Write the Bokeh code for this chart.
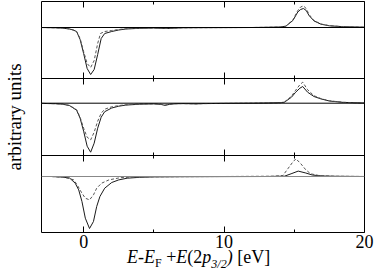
from bokeh.plotting import figure
from bokeh.layouts import column
from bokeh.models import Range1d, LinearAxis, FixedTicker, Span, Div
from bokeh.embed import file_html
from bokeh.resources import INLINE

# ---------------- data (arbitrary units) ----------------
x_ticks = [0, 10, 20]
x_minor = [5, 15]
x_tick_labels = {0: "0", 10: "10", 20: "20"}

# panel 1 (top)
e1_s = [-3, -2, -1.5, -1, -0.75, -0.5, -0.25, 0, 0.25, 0.5, 0.75, 1.0, 1.25, 1.5, 2, 2.5, 3, 4, 5, 5.5, 6, 6.5, 7, 8, 10, 12, 13, 14, 14.4, 14.9, 15.25, 15.45, 15.65, 15.85, 16.05, 16.4, 16.9, 17.5, 18.5, 20]
y1_s = [0, -0.3, -0.6, -1.5, -2.5, -4, -12, -26, -41, -47, -42, -27, -11, -6, -4, -2.5, -1.5, -0.8, -0.5, -0.8, -1.0, -0.6, -0.3, -0.2, -0.1, 0, 0.2, 0.5, 1.3, 7, 15.5, 18, 19, 17, 12, 6.6, 3.3, 1.7, 0.8, 0.3]
e1_d = [-3, -2, -1.5, -1, -0.75, -0.5, -0.25, 0, 0.25, 0.5, 0.75, 1.0, 1.2, 1.5, 2, 2.5, 3, 4, 5, 5.5, 6, 6.5, 7, 8, 10, 12, 13, 14, 14.4, 14.9, 15.25, 15.45, 15.65, 15.85, 16.05, 16.4, 16.9, 17.5, 18.5, 20]
y1_d = [0, -0.3, -0.6, -1.4, -2.4, -4, -11, -24, -36, -40, -33, -16, -6, -4, -3, -2, -1.2, -0.7, -0.5, -0.8, -1.0, -0.6, -0.3, -0.2, -0.1, 0, 0.2, 0.5, 1.3, 7.5, 17, 20.5, 21.6, 19, 13, 7, 3.5, 1.8, 0.8, 0.3]

# panel 2 (middle)
e2_s = [-3, -2, -1.5, -1, -0.5, -0.25, 0, 0.25, 0.5, 0.75, 1.0, 1.25, 1.5, 2, 2.5, 3, 4, 5, 5.5, 5.8, 6.1, 6.5, 7, 7.5, 8, 8.5, 10, 12, 13, 14, 14.3, 14.8, 15.1, 15.4, 15.6, 15.95, 16.4, 16.9, 17.5, 18.5, 19.7, 20]
y2_s = [-0.2, -0.5, -1, -2.4, -7, -15, -28, -43, -49, -40, -25, -14, -8.5, -4.8, -3, -1.9, -1.0, -0.7, -1.2, -2.2, -1.2, -0.6, -0.4, -0.5, -0.7, -0.4, -0.2, 0, 0.2, 0.5, 1, 6, 11, 15, 16.7, 11, 6.7, 4.3, 2.2, 0.8, 0.3, 0.2]
e2_d = [-3, -2, -1.5, -1, -0.5, -0.25, 0, 0.25, 0.5, 0.75, 1.0, 1.25, 1.5, 2, 2.5, 3, 4, 5, 5.5, 5.8, 6.1, 6.5, 7, 7.5, 8, 8.5, 10, 12, 13, 14, 14.3, 14.8, 15.1, 15.4, 15.6, 15.95, 16.4, 16.9, 17.5, 18.5, 19.7, 20]
y2_d = [-0.2, -0.5, -1, -2.2, -6.5, -14, -25, -34, -36.7, -29, -18, -10, -6, -3.6, -2.4, -1.5, -0.8, -0.6, -1.0, -1.8, -1.0, -0.5, -0.4, -0.5, -0.6, -0.4, -0.2, 0, 0.2, 0.5, 1.2, 7, 13, 18.5, 21, 13.5, 7.5, 4.6, 2.4, 0.9, 0.3, 0.2]

# panel 3 (bottom)
e3_s = [-2.3, -1.5, -1, -0.6, -0.35, -0.12, 0.12, 0.42, 0.7, 0.93, 1.16, 1.5, 2, 2.5, 3.1, 4, 5, 7, 10, 13, 14.3, 14.77, 15.28, 15.82, 16.28, 17, 18, 20]
y3_s = [0, -0.6, -1.5, -6.7, -13.4, -25, -41.7, -52, -45, -30, -20, -11.7, -6, -3.4, -1.7, -0.8, -0.4, -0.2, -0.1, 0, 0.3, 2.7, 5.4, 3.5, 1.5, 0.5, 0.2, 0]
e3_d = [-2.3, -1.5, -1, -0.7, -0.46, -0.12, 0.12, 0.42, 0.7, 0.93, 1.28, 1.8, 2.6, 3.5, 5, 10, 13.5, 14.19, 14.54, 14.89, 15.12, 15.47, 15.82, 16.17, 16.75, 17.8, 20]
y3_d = [0, -0.8, -2, -3.4, -8.4, -16.7, -21.7, -23.4, -18.4, -11.7, -6.7, -3.4, -1.2, -0.6, -0.3, 0, 0.3, 1, 7.7, 14.4, 17.7, 12.7, 6.7, 2.7, 1, 0.3, 0]

y_label = "arbitrary units"
x_label_html = ('<i>E</i>-<i>E</i><span style="font-size:12px;position:relative;top:4px">F</span>'
                ' +<i>E</i>(2<i>p</i><span style="font-size:12px;font-style:italic;position:relative;top:5px">3/2</span><i>)</i> [eV]')

# ---------------- layout ----------------
X0, X1 = -3, 20
SERIF = "Liberation Serif"
W = 374
FRAME_L, FRAME_W = 35, 329
FRAME_H = 231            # frame spans page pixels 1..232
BOTTOM = 24

# stacked panels: zero-line offsets and panel boundaries in frame units (1 unit = 1 px)
base1, base2, base3 = 205, 129.3, 56
sep12, sep23 = 154, 77

p = figure(width=W, height=1 + FRAME_H + BOTTOM,
           x_range=Range1d(X0, X1), y_range=Range1d(0, FRAME_H),
           output_backend="svg", toolbar_location=None,
           x_axis_location=None, y_axis_location=None,
           min_border_left=FRAME_L, min_border_right=W - FRAME_L - FRAME_W,
           min_border_top=1, min_border_bottom=BOTTOM)
p.grid.visible = False
p.outline_line_color = "black"
p.outline_line_width = 1
p.background_fill_color = "white"
p.border_fill_color = "white"


def tick_axis(loc, tin, tout, fixed=None, labels=False):
    ax = LinearAxis(ticker=FixedTicker(ticks=x_ticks, minor_ticks=x_minor),
                    major_tick_in=tin, major_tick_out=tout,
                    minor_tick_in=tin // 2, minor_tick_out=tout // 2,
                    axis_line_color=None,
                    major_tick_line_color="black", minor_tick_line_color="black")
    if fixed is not None:
        ax.fixed_location = fixed
    if labels:
        ax.major_label_text_font = SERIF
        ax.major_label_text_font_size = "18px"
        ax.major_label_text_color = "black"
        ax.major_label_standoff = 2
        ax.major_label_overrides = x_tick_labels
    else:
        ax.major_label_text_font_size = "0px"
        ax.major_label_standoff = 0
    p.add_layout(ax, loc)


tick_axis("above", 6, 0)
tick_axis("below", 6, 0, labels=True)
tick_axis("below", 6, 6, fixed=sep12)
tick_axis("below", 6, 6, fixed=sep23)

yax = LinearAxis(ticker=FixedTicker(ticks=[]), axis_line_color=None,
                 major_tick_out=0, major_tick_in=0, minor_tick_out=0, minor_tick_in=0,
                 major_label_text_font_size="0px", major_label_standoff=0,
                 axis_label=y_label, axis_label_standoff=17,
                 axis_label_text_line_height=0.8,
                 axis_label_text_font=SERIF, axis_label_text_font_style="normal",
                 axis_label_text_font_size="19px", axis_label_text_color="black")
p.add_layout(yax, "left")

for loc in (sep12, sep23):
    p.add_layout(Span(location=loc, dimension="width", line_color="black", line_width=1))
p.add_layout(Span(location=base1, dimension="width", line_color="black", line_width=1))
p.add_layout(Span(location=base2, dimension="width", line_color="black", line_width=1))
p.add_layout(Span(location=base3, dimension="width", line_color="#888888", line_width=1))


def add_curves(base, es, ys, ed, yd):
    p.line(x=es, y=[base + v for v in ys], line_color="#1a1a1a", line_width=1)
    p.line(x=ed, y=[base + v for v in yd], line_color="#555555", line_width=1, line_dash="3 2")


add_curves(base1, e1_s, y1_s, e1_d, y1_d)
add_curves(base2, e2_s, y2_s, e2_d, y2_d)
add_curves(base3, e3_s, y3_s, e3_d, y3_d)

xlabel = Div(text=('<div style="font-family:\'Liberation Serif\';font-size:18px;line-height:18px;'
                   'color:black;white-space:nowrap;padding-left:127px">' + x_label_html + '</div>'),
             width=W, height=24, margin=(-8, 0, 0, 0))

layout = column(p, xlabel, spacing=0)

html = file_html(layout, INLINE)
html = html.replace("<body>", "<body style=\"margin:0\">", 1)
open("out.html", "w").write(html)
